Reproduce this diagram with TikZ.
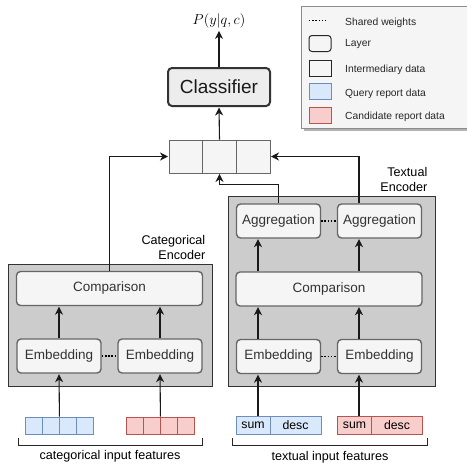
\documentclass[tikz,border=0pt]{standalone}
\usepackage{fontspec}
\setmainfont{Liberation Sans}
\usetikzlibrary{positioning,arrows.meta}

\definecolor{layerfill}{HTML}{F5F5F5}
\definecolor{layerline}{HTML}{666666}
\definecolor{encfill}{HTML}{CCCCCC}
\definecolor{qfill}{HTML}{DAE8FC}
\definecolor{qline}{HTML}{6C8EBF}
\definecolor{cfill}{HTML}{F8CECC}
\definecolor{cline}{HTML}{B85450}
\definecolor{txt}{HTML}{333333}

\begin{document}
\begin{tikzpicture}[x=1pt, y=-1pt, on grid, >={Stealth[length=8pt,width=8pt,inset=2.5pt]},
    layer/.style={draw=layerline, fill=layerfill, line width=1.4pt, rounded corners=4pt,
        text=txt, font=\fontsize{13.5}{15}\selectfont, minimum width=84pt, minimum height=34pt, inner sep=0pt},
    wide/.style={layer, minimum width=186pt},
    encoder/.style={draw=black!80, fill=encfill, line width=1pt, inner sep=0pt},
    cell/.style={draw=layerline, fill=layerfill, line width=0.9pt, minimum width=33.7pt, minimum height=33pt, inner sep=0pt},
    qcell/.style={draw=qline, fill=qfill, line width=0.9pt, minimum width=17pt, minimum height=17pt, inner sep=0pt,
        font=\fontsize{12.3}{14}\selectfont},
    ccell/.style={qcell, draw=cline, fill=cfill},
    shared/.style={line width=1.6pt, dash pattern=on 1.6pt off 1.6pt},
    flow/.style={->, line width=1.1pt, black!90, shorten >=0.5pt},
    lbl/.style={font=\fontsize{12.6}{14.5}\selectfont, align=right, anchor=south east, inner sep=0pt},
    legkey/.style={draw=black!85, fill=layerfill, line width=1pt, minimum width=22pt, minimum height=16pt, inner sep=0pt},
    legtext/.style={anchor=west, inner sep=0pt, font=\fontsize{10.3}{12}\selectfont, text=black!85},
    ]

    \fill[white] (0,0) rectangle (467,464);
    \useasboundingbox (0,0) rectangle (467,464);

    % legend
    \fill[black!30] (304,9) rectangle (472,131);
    \draw[fill=layerfill, draw=black!45, line width=1pt] (301,6) rectangle (472,128);
    \draw[shared, line width=1.3pt, dash pattern=on 1.3pt off 1.9pt] (309,20.5) -- (328,20.5);
    \node[legkey, rounded corners=3pt] (klayer) at (320,43.5) {};
    \node[legkey] (kdata) at (320,68.5) {};
    \node[legkey, draw=qline, fill=qfill] (kquery) at (320,91.5) {};
    \node[legkey, draw=cline, fill=cfill] (kcand) at (320,115.5) {};
    \node[legtext] (tshared) at (345,23) {Shared weights};
    \node[legtext] (tlayer) at (345,44.5) {Layer};
    \node[legtext] (tdata) at (345,70) {Intermediary data};
    \node[legtext] (tquery) at (345,94) {Query report data};
    \node[legtext] (tcand) at (345,116.5) {Candidate report data};

    % top
    \node[inner sep=2pt, font=\fontsize{14}{16}\selectfont] (out) at (219,21) {$P(y|q,c)$};
    \node[layer, draw=txt, fill=black!7, line width=2pt, minimum width=102pt, minimum height=38pt,
        font=\fontsize{19}{22}\selectfont, text=black!90] (clf) at (219,87) {Classifier};
    \node[cell] (m2) at (219.5,156.5) {};
    \node[cell, left=33.7pt of m2] (m1) {};
    \node[cell, right=33.7pt of m2] (m3) {};

    % categorical encoder
    \node[encoder, minimum width=204pt, minimum height=122pt] (cenc) at (110,325) {};
    \node[lbl] (cname) at ([shift={(-7,-4)}]cenc.north east) {Categorical\\Encoder};
    \node[wide] (ccmp) at (109.5,288.5) {Comparison};
    \node[layer] (cemb1) at (59,356) {Embedding};
    \node[layer, right=101pt of cemb1] (cemb2) {Embedding};
    \foreach \i in {1,...,4} {
        \node[qcell] (cq\i) at (16.5+17*\i,425.5) {};
        \node[ccell] (cc\i) at (117.5+17*\i,425.5) {};
    }

    % textual encoder
    \node[encoder, minimum width=207pt, minimum height=190pt] (tenc) at (331.5,291) {};
    \node[lbl] (tname) at ([shift={(-8,-4)}]tenc.north east) {Textual\\Encoder};
    \node[layer] (agg1) at (278.5,221) {Aggregation};
    \node[layer, right=101pt of agg1] (agg2) {Aggregation};
    \node[wide] (tcmp) at (329,289) {Comparison};
    \node[layer] (temb1) at (278.5,356.5) {Embedding};
    \node[layer, right=101pt of temb1] (temb2) {Embedding};
    \node[qcell, minimum width=34pt, minimum height=18pt] (tin1) at (253,425) {sum};
    \node[qcell, minimum width=51pt, minimum height=18pt, right=42.5pt of tin1] (tdesc1) {desc};
    \node[ccell, minimum width=34pt, minimum height=18pt] (tin2) at (354.5,425) {sum};
    \node[ccell, minimum width=51pt, minimum height=18pt, right=42.5pt of tin2] (tdesc2) {desc};
    \coordinate (tcol1) at (258,0);
    \coordinate (tcol2) at (359,0);

    % shared weights
    \draw[shared] (cemb1.east) -- (cemb2.west);
    \draw[shared] (temb1.east) -- (temb2.west);
    \draw[shared] (agg1.east) -- (agg2.west);

    % arrows
    \draw[flow] (clf.north) -- (out.south);
    \draw[flow] (m2.north) -- (clf.south);
    \draw[flow] (ccmp.north) |- (m1.west);
    \draw[flow] (agg2.north -| tcol2) |- (m3.east);
    \draw[flow] (agg1.north) -- ++(0,-19) -| (m2.south);

    \path[flow]
        (cq2.north east) edge (cemb1.south)
        (cc2.north east) edge (cemb2.south)
        (cemb1.north) edge (cemb1.north |- ccmp.south)
        (cemb2.north) edge (cemb2.north |- ccmp.south);

    \foreach \i in {1,2} {
        \draw[flow] (tin\i.north -| tcol\i) -- (temb\i.south -| tcol\i);
        \draw[flow] (temb\i.north -| tcol\i) -- (tcmp.south -| tcol\i);
        \draw[flow] (tcmp.north -| tcol\i) -- (agg\i.south -| tcol\i);
    }

    % input brackets
    \draw[line width=0.9pt, black!85] (18,438) -- (18,445) -- (202,445) -- (202,438);
    \draw[line width=0.9pt, black!85] (232,438) -- (232,445.5) -- (427,445.5) -- (427,438);
    \node[font=\fontsize{12.6}{14}\selectfont] (cfeat) at (110,456) {categorical input features};
    \node[font=\fontsize{12.6}{14}\selectfont] (tfeat) at (330,457) {textual input features};

\end{tikzpicture}
\end{document}
